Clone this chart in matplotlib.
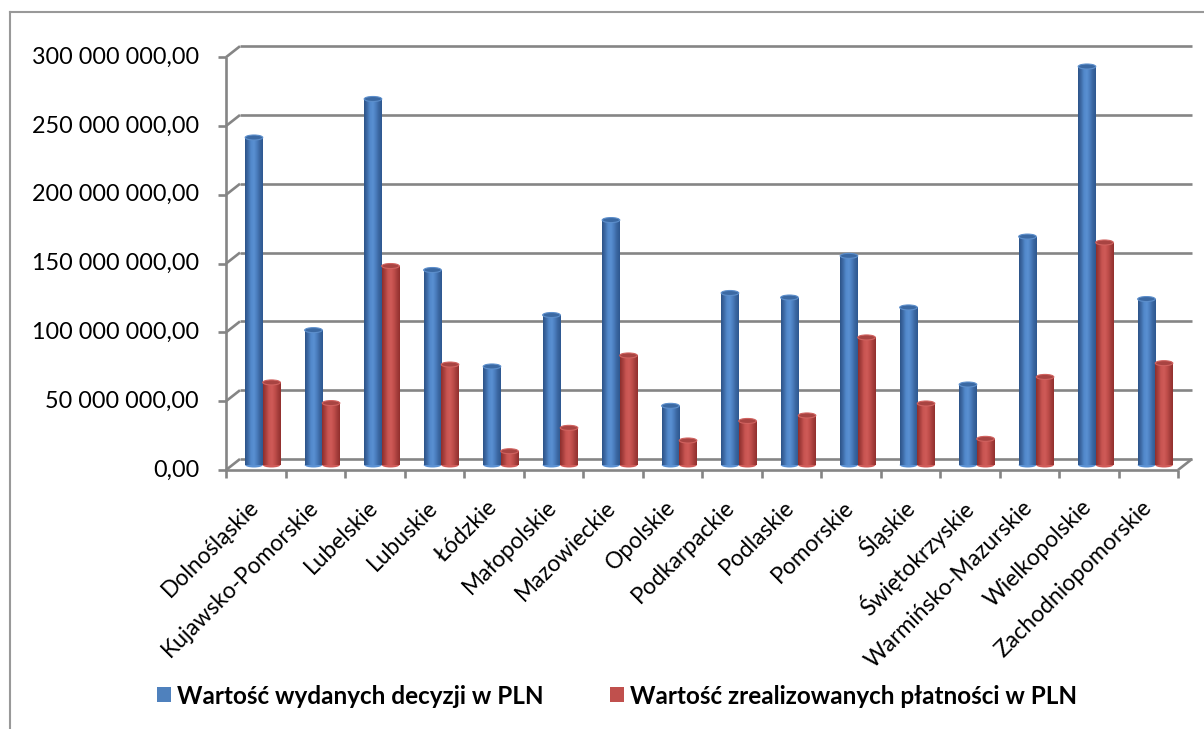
import numpy as np
import matplotlib
matplotlib.use("Agg")
import matplotlib.pyplot as plt
from matplotlib.patches import Ellipse
from matplotlib.colors import LinearSegmentedColormap

# ---------------- data ----------------
categories = ["Dolnośląskie", "Kujawsko-Pomorskie", "Lubelskie", "Lubuskie", "Łódzkie",
              "Małopolskie", "Mazowieckie", "Opolskie", "Podkarpackie", "Podlaskie",
              "Pomorskie", "Śląskie", "Świętokrzyskie", "Warmińsko-Mazurskie",
              "Wielkopolskie", "Zachodniopomorskie"]
decyzje = [238e6, 98e6, 266e6, 141.7e6, 71.6e6, 109e6, 178e6, 43e6, 125e6, 121.7e6,
           152e6, 114.5e6, 58.5e6, 166e6, 289.6e6, 120.6e6]
platnosci = [60e6, 45e6, 144.6e6, 73e6, 10e6, 27e6, 79.6e6, 17.8e6, 32e6, 36e6,
             92.7e6, 44.7e6, 19e6, 64e6, 161.7e6, 74e6]
series_names = ["Wartość wydanych decyzji w PLN", "Wartość zrealizowanych płatności w PLN"]
yticks = [0, 50e6, 100e6, 150e6, 200e6, 250e6, 300e6]
ytick_labels = ["0,00", "50 000 000,00", "100 000 000,00", "150 000 000,00",
                "200 000 000,00", "250 000 000,00", "300 000 000,00"]

FONT = "Lato"
W, H = 1204, 729
fig = plt.figure(figsize=(W / 100, H / 100), dpi=100)
fig.patch.set_facecolor("white")

# axes geometry (middle-depth plane of the 3D box)
ax_l, ax_r, ax_top, ax_bot = 233, 1185, 52.2, 465
ax = fig.add_axes([ax_l / W, (H - ax_bot) / H, (ax_r - ax_l) / W, (ax_bot - ax_top) / H])
n = len(categories)
ymax = yticks[-1]
ax.set_xlim(0, n)
ax.set_ylim(0, ymax)
ax.axis("off")

ux = n / (ax_r - ax_l)            # data units per pixel (x)
uy = ymax / (ax_bot - ax_top)     # data units per pixel (y)
bdx, bdy = 7 * ux, 6 * uy         # back wall offset
fdx, fdy = -7 * ux, -5 * uy       # front edge offset

grid_c = "#858585"
lw = 1.9
kw = dict(color=grid_c, lw=lw, clip_on=False, solid_capstyle="butt")

# back wall gridlines + left wall diagonals + front ticks
for v in yticks:
    ax.plot([bdx, n + bdx], [v + bdy, v + bdy], zorder=1, **kw)
    ax.plot([fdx, bdx], [v + fdy, v + bdy], zorder=1, **kw)
    ax.plot([fdx - 8 * ux, fdx], [v + fdy, v + fdy], zorder=1, **kw)
# front vertical axis
ax.plot([fdx, fdx], [fdy, ymax + fdy], zorder=1, **kw)
# floor front edge and right diagonal
ax.plot([fdx, n + fdx], [fdy, fdy], zorder=1, **kw)
ax.plot([n + fdx, n + bdx], [fdy, bdy], zorder=1, **kw)
# category ticks
for i in range(n + 1):
    ax.plot([i + fdx, i + fdx], [fdy, fdy - 8 * uy], zorder=1, **kw)

# y tick labels
for v, lab in zip(yticks, ytick_labels):
    ax.text(fdx - 27 * ux, v + fdy, lab, ha="right", va="center",
            fontsize=16.8, family=FONT, color="black")

# category labels
for i, cat in enumerate(categories):
    ax.text(i + 0.5 + fdx + 0 * ux, fdy - 34 * uy, cat, rotation=45,
            rotation_mode="anchor", ha="right", va="center",
            fontsize=16.5, family=FONT, color="black")

# ---------------- cylinders ----------------
bw = 0.295
x = np.arange(n) + 0.5
blue_cmap = LinearSegmentedColormap.from_list(
    "b", ["#2C5387", "#3E6BA6", "#5289CC", "#5A90D2", "#4A7DBD", "#3A66A0", "#2E5890"])
red_cmap = LinearSegmentedColormap.from_list(
    "r", ["#8E2E2C", "#A8403E", "#C95552", "#CF5B58", "#C04E4B", "#A63F3D", "#922F2D"])
grad = np.linspace(0, 1, 64).reshape(1, -1)
ell_h = 5 * uy

def cylinders(xpos, vals, base_color, cmap, top_color, rim_color, label):
    bars = ax.bar(xpos, vals, width=bw, color=base_color, edgecolor="none",
                  zorder=3, label=label)
    for b in bars:
        x0, w, h = b.get_x(), b.get_width(), b.get_height()
        im = ax.imshow(grad, cmap=cmap, extent=[x0, x0 + w, 0, h], aspect="auto",
                       interpolation="bilinear", zorder=3.1)
        im.set_clip_path(b)
        # rounded bottom
        ax.add_patch(Ellipse((x0 + w / 2, 0), w, ell_h, facecolor=cmap(0.5),
                             edgecolor="none", zorder=2.9, clip_on=False))
        # top cap
        ax.add_patch(Ellipse((x0 + w / 2, h), w, ell_h, facecolor=top_color,
                             edgecolor=rim_color, lw=0.8, zorder=3.5, clip_on=False))
    return bars

b1 = cylinders(x - bw / 2, decyzje, "#4F81BD", blue_cmap, "#3B69A3", "#5C8ECB", series_names[0])
b2 = cylinders(x + bw / 2, platnosci, "#C0504D", red_cmap, "#A84442", "#D0625F", series_names[1])
ax.set_xlim(0, n)
ax.set_ylim(0, ymax)

# legend
fig.legend(handles=[b1, b2], labels=series_names, loc="center",
           bbox_to_anchor=(617 / W, (H - 696) / H), ncol=2, frameon=False,
           prop={"family": FONT, "weight": "bold", "size": 17.5},
           handlelength=0.58, handleheight=0.58, handletextpad=0.25,
           columnspacing=2.7, borderpad=0)

# chart area border (left and top visible)
fig.add_artist(plt.Line2D([10 / W, 10 / W], [0, (H - 12) / H], color="#999999", lw=1.5))
fig.add_artist(plt.Line2D([10 / W, 1], [(H - 12) / H, (H - 12) / H], color="#999999", lw=1.5))

fig.savefig("out.png", dpi=100, facecolor="white")
